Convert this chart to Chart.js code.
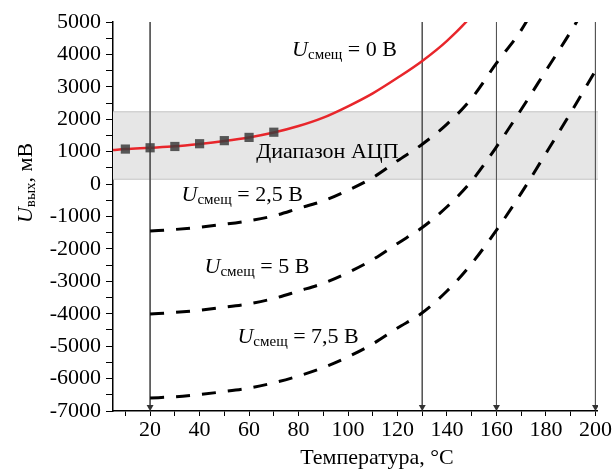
<!DOCTYPE html>
<html>
<head>
<meta charset="utf-8">
<script src="https://cdn.jsdelivr.net/npm/chart.js@4/dist/chart.umd.min.js"></script>
<style>
  body { margin: 0; background: #fff; }
</style>
</head>
<body>
<canvas id="chart" width="613" height="472"></canvas>
<script>
// U_вых vs temperature for several bias voltages

// red curve, U_смещ = 0 V
const tempZero = [5, 10, 20, 30, 40, 50, 60, 70, 80, 90, 100, 110, 120, 130, 140, 150, 160];
const uZero = [1050, 1080, 1120, 1165, 1240, 1330, 1440, 1590, 1790, 2050, 2400, 2800, 3280, 3800, 4420, 5200, 6250];

// measured squares on the red curve
const tempMeas = [10, 20, 30, 40, 50, 60, 70];
const uMeas = [1080, 1120, 1160, 1245, 1340, 1440, 1600];

// dashed curves, U_смещ = 2,5 / 5 / 7,5 V
const tempBias = [20, 30, 40, 50, 60, 70, 80, 90, 100, 110, 120, 130, 140, 150, 160, 170, 180, 190, 200];
const u25 = [-1450, -1400, -1330, -1240, -1130, -980, -750, -520, -190, 200, 720, 1230, 1850, 2650, 3730, 4750, 6100, 7500, 9000];
const u50 = [-4010, -3960, -3890, -3800, -3690, -3530, -3300, -3060, -2730, -2330, -1830, -1340, -700, 100, 1150, 2300, 3500, 4700, 6000];
const u75 = [-6600, -6560, -6490, -6400, -6290, -6130, -5920, -5660, -5330, -4930, -4440, -3970, -3300, -2450, -1420, -280, 950, 2200, 3500];

// ADC range band
const adcLow = 150;
const adcHigh = 2230;

// vertical marker lines
const markerTemps = [20, 130, 160, 200];

const xTicks = [10, 20, 30, 40, 50, 60, 70, 80, 90, 100, 110, 120, 130, 140, 150, 160, 170, 180, 190, 200];
const yTicks = [];
for (let v = -7000; v <= 5000; v += 500) yTicks.push(v);

const serif = '"Liberation Serif", "Times New Roman", serif';

function pts(xs, ys) {
  return xs.map((x, i) => ({ x: x, y: ys[i] }));
}

// draws text made of several runs (font, baseline offset)
function rich(ctx, x, y, parts) {
  let cx = x;
  parts.forEach(p => {
    ctx.font = p[1];
    ctx.fillText(p[0], cx, y + p[2]);
    cx += ctx.measureText(p[0]).width;
  });
  return cx - x;
}

function richWidth(ctx, parts) {
  let w = 0;
  parts.forEach(p => { ctx.font = p[1]; w += ctx.measureText(p[0]).width; });
  return w;
}

const textPlugin = {
  id: 'texts',
  afterDraw(chart) {
    const ctx = chart.ctx;
    const xs = chart.scales.x, ys = chart.scales.y;
    ctx.save();
    ctx.fillStyle = '#000';
    ctx.textBaseline = 'middle';
    ctx.textAlign = 'left';

    // curve labels: [bias text, temperature, value]
    const labels = [['0', 77.4, 4136], ['2,5', 32.7, -336], ['5', 42, -2557], ['7,5', 55.3, -4716]];
    labels.forEach(l => {
      rich(ctx, xs.getPixelForValue(l[1]), ys.getPixelForValue(l[2]), [
        ['U', 'italic 22px ' + serif, 0],
        ['смещ', '15px ' + serif, 5],
        [' = ' + l[0] + ' В', '22px ' + serif, 0]
      ]);
    });

    ctx.font = '22px ' + serif;
    ctx.fillText('Диапазон АЦП', xs.getPixelForValue(62.9), ys.getPixelForValue(990));

    // x axis title
    ctx.textAlign = 'center';
    ctx.fillText('Температура, °С', 377, 458);

    // y axis title, rotated
    const yParts = [
      ['U', 'italic 22px ' + serif, 0],
      ['вых', '15px ' + serif, 5],
      [', мВ', '22px ' + serif, 0]
    ];
    ctx.textAlign = 'left';
    ctx.translate(26, 183);
    ctx.rotate(-Math.PI / 2);
    rich(ctx, -richWidth(ctx, yParts) / 2, 0, yParts);
    ctx.restore();
  }
};

const datasets = [];

// band
datasets.push({
  data: [{ x: 5, y: adcHigh }, { x: 201, y: adcHigh }],
  borderColor: '#c4c4c4', borderWidth: 1, pointRadius: 0,
  backgroundColor: '#e6e6e6', fill: { value: adcLow }, order: 10
});
datasets.push({
  data: [{ x: 5, y: adcLow }, { x: 201, y: adcLow }],
  borderColor: '#c4c4c4', borderWidth: 1, pointRadius: 0, fill: false, order: 9
});

// vertical lines with arrows at the bottom
markerTemps.forEach(t => {
  datasets.push({
    data: [{ x: t, y: 5000 }, { x: t, y: -6880 }],
    borderColor: '#555', borderWidth: 1, fill: false,
    pointRadius: [0, 4], pointStyle: 'triangle', pointRotation: 180,
    pointBackgroundColor: '#333', pointBorderColor: '#333', pointBorderWidth: 0,
    order: 5
  });
});

[u25, u50, u75].forEach(u => {
  datasets.push({
    data: pts(tempBias, u),
    borderColor: '#000', borderWidth: 3, borderDash: [14, 12],
    pointRadius: 0, fill: false, cubicInterpolationMode: 'monotone', order: 2
  });
});

datasets.push({
  data: pts(tempZero, uZero),
  borderColor: '#e8262b', borderWidth: 2.5,
  pointRadius: 0, fill: false, cubicInterpolationMode: 'monotone', order: 1
});

datasets.push({
  data: pts(tempMeas, uMeas),
  showLine: false, pointStyle: 'rect', pointRadius: 6.5,
  pointBackgroundColor: 'rgba(60, 60, 60, 0.85)', pointBorderWidth: 0,
  order: 0
});

const ctx = document.getElementById('chart').getContext('2d');
new Chart(ctx, {
  type: 'line',
  data: { datasets: datasets },
  plugins: [textPlugin],
  options: {
    responsive: false,
    animation: false,
    events: [],
    layout: { autoPadding: false, padding: { top: 22, right: 12, left: 0, bottom: 0 } },
    plugins: { legend: { display: false }, tooltip: { enabled: false } },
    scales: {
      x: {
        type: 'linear', min: 5, max: 201,
        afterBuildTicks: s => { s.ticks = xTicks.map(v => ({ value: v })); },
        afterFit: s => { s.height = 61; },
        ticks: {
          callback: v => (v % 20 === 0 ? v : ''),
          font: { family: serif, size: 22 }, color: '#000',
          padding: 1, maxRotation: 0, autoSkip: false
        },
        grid: { drawOnChartArea: false, drawTicks: true, tickLength: 5, color: '#000', tickWidth: 1 },
        border: { color: '#000', width: 1.5 }
      },
      y: {
        type: 'linear', min: -7000, max: 5000,
        afterBuildTicks: s => { s.ticks = yTicks.map(v => ({ value: v })); },
        afterFit: s => { s.width = 113; },
        ticks: {
          callback: v => (v % 1000 === 0 ? v : ''),
          font: { family: serif, size: 22 }, color: '#000',
          padding: 5, autoSkip: false
        },
        grid: { drawOnChartArea: false, drawTicks: true, tickLength: 7, color: '#000', tickWidth: 1 },
        border: { color: '#000', width: 1.5 }
      }
    }
  }
});
</script>
</body>
</html>
